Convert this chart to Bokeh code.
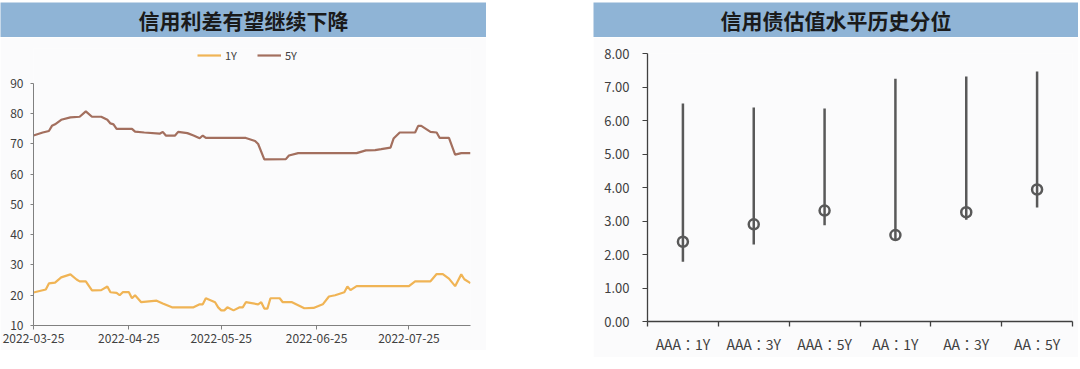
import pandas as pd
from bokeh.plotting import figure
from bokeh.layouts import row, column
from bokeh.models import (Range1d, FixedTicker, DatetimeTickFormatter, Legend,
                          Label, NumeralTickFormatter, Spacer)
from bokeh.embed import file_html
from bokeh.resources import INLINE

# ---------------- data ----------------
title_left = "信用利差有望继续下降"
title_right = "信用债估值水平历史分位"

dates_1y = ["2022-03-25", "2022-03-29", "2022-03-30", "2022-04-01", "2022-04-03", "2022-04-06",
            "2022-04-08", "2022-04-09", "2022-04-11", "2022-04-13", "2022-04-16", "2022-04-18",
            "2022-04-19", "2022-04-21", "2022-04-22", "2022-04-23", "2022-04-25", "2022-04-26",
            "2022-04-27", "2022-04-29", "2022-05-04", "2022-05-06", "2022-05-09", "2022-05-16",
            "2022-05-18", "2022-05-19", "2022-05-20", "2022-05-23", "2022-05-24", "2022-05-25",
            "2022-05-26", "2022-05-27", "2022-05-29", "2022-05-31", "2022-06-01", "2022-06-02",
            "2022-06-06", "2022-06-07", "2022-06-08", "2022-06-09", "2022-06-10", "2022-06-13",
            "2022-06-14", "2022-06-17", "2022-06-21", "2022-06-24", "2022-06-27", "2022-06-29",
            "2022-07-01", "2022-07-04", "2022-07-05", "2022-07-06", "2022-07-08", "2022-07-25",
            "2022-07-27", "2022-08-01", "2022-08-03", "2022-08-05", "2022-08-07", "2022-08-09",
            "2022-08-11", "2022-08-12", "2022-08-14"]
values_1y = [20.9, 21.9, 23.9, 24.2, 25.9, 26.9,
             25.2, 24.6, 24.6, 21.6, 21.7, 22.9,
             21.0, 20.8, 20.0, 21.0, 21.0, 19.0,
             20.0, 17.7, 18.2, 17.3, 16.0, 16.0,
             17.0, 17.0, 19.0, 17.7, 16.0, 15.0,
             15.0, 16.0, 15.0, 16.0, 16.0, 17.7,
             17.0, 17.7, 15.6, 15.6, 19.0, 19.0,
             17.7, 17.7, 15.7, 15.8, 17.0, 19.6,
             20.0, 21.0, 22.9, 21.7, 23.0, 23.0,
             24.6, 24.6, 27.0, 27.0, 25.5, 23.0,
             26.9, 25.3, 24.0]

dates_5y = ["2022-03-25", "2022-03-28", "2022-03-30", "2022-03-31", "2022-04-01", "2022-04-03",
            "2022-04-06", "2022-04-09", "2022-04-11", "2022-04-13", "2022-04-16", "2022-04-18",
            "2022-04-19", "2022-04-20", "2022-04-21", "2022-04-26", "2022-04-27", "2022-04-30",
            "2022-05-05", "2022-05-06", "2022-05-07", "2022-05-10", "2022-05-11", "2022-05-14",
            "2022-05-16", "2022-05-18", "2022-05-19", "2022-05-20", "2022-06-02", "2022-06-05",
            "2022-06-06", "2022-06-08", "2022-06-15", "2022-06-16", "2022-06-19", "2022-07-08",
            "2022-07-11", "2022-07-14", "2022-07-16", "2022-07-19", "2022-07-20", "2022-07-22",
            "2022-07-27", "2022-07-28", "2022-07-29", "2022-08-01", "2022-08-03", "2022-08-04",
            "2022-08-07", "2022-08-09", "2022-08-11", "2022-08-14"]
values_5y = [72.8, 73.8, 74.3, 76.0, 76.5, 78.0,
             78.8, 79.0, 80.8, 79.0, 79.0, 78.0,
             76.8, 76.5, 75.0, 75.0, 74.1, 73.8,
             73.4, 74.0, 72.8, 72.8, 74.0, 73.6,
             72.8, 71.9, 72.8, 72.0, 72.0, 71.0,
             70.0, 64.9, 65.0, 66.2, 67.0, 67.0,
             67.9, 68.0, 68.3, 68.8, 71.8, 73.8,
             73.8, 76.0, 76.0, 74.0, 73.8, 72.0,
             72.0, 66.5, 67.0, 67.0]

date_ticks = ["2022-03-25", "2022-04-25", "2022-05-25", "2022-06-25", "2022-07-25"]
left_y_ticks = [10, 20, 30, 40, 50, 60, 70, 80, 90]

categories = ["AAA：1Y", "AAA：3Y", "AAA：5Y", "AA：1Y", "AA：3Y", "AA：5Y"]
current = [2.38, 2.90, 3.31, 2.58, 3.26, 3.94]
high = [6.51, 6.39, 6.36, 7.25, 7.31, 7.46]
low = [1.78, 2.30, 2.87, 2.42, 3.04, 3.40]
right_y_ticks = [0, 1, 2, 3, 4, 5, 6, 7, 8]

# ---------------- style ----------------
FONT = "Noto Sans CJK SC"
FONT_TC = "Noto Sans CJK TC"
BG = "#FBFBFC"
BAR = "#8FB4D6"
C1Y = "#F0B455"
C5Y = "#A36F5E"
TXT = "#404040"


def title_bar(text, width):
    t = figure(width=width, height=35, output_backend="svg", toolbar_location=None,
               x_range=Range1d(0, 1), y_range=Range1d(0, 1),
               x_axis_type=None, y_axis_type=None, min_border=0)
    t.frame_align = False
    t.grid.visible = False
    t.outline_line_color = None
    t.background_fill_color = BAR
    t.border_fill_color = BAR
    t.add_layout(Label(x=0.5, y=0.5, text=text, text_align="center", text_baseline="middle",
                       text_font=FONT, text_font_size="21px", text_font_style="bold",
                       text_color="#1A1A1A"))
    return t


# ---------------- left chart ----------------
d1 = pd.to_datetime(dates_1y)
d5 = pd.to_datetime(dates_5y)
p1 = figure(width=486, height=313, x_axis_type="datetime", output_backend="svg",
            toolbar_location=None,
            x_range=Range1d(pd.Timestamp(dates_5y[0]), pd.Timestamp(dates_5y[-1])),
            y_range=Range1d(10, 101.57),
            min_border_left=33, min_border_right=16, min_border_top=11, min_border_bottom=25)
p1.frame_align = False
p1.background_fill_color = BG
p1.border_fill_color = BG
p1.outline_line_color = None
p1.grid.visible = False

r1 = p1.line(d1, values_1y, line_color=C1Y, line_width=2.2)
r5 = p1.line(d5, values_5y, line_color=C5Y, line_width=2.2)

legend = Legend(items=[("1Y", [r1]), ("5Y", [r5])], orientation="horizontal",
                location=(164, 262), border_line_color=None, background_fill_alpha=0,
                label_text_font=FONT, label_text_font_size="11px", label_text_color=TXT,
                glyph_width=24, glyph_height=10, label_standoff=4, spacing=12,
                padding=2, margin=0)
p1.add_layout(legend)

ya = p1.yaxis[0]
ya.ticker = FixedTicker(ticks=left_y_ticks)
ya.bounds = (10, 90)
ya.major_tick_in = 0
ya.major_tick_out = 3
ya.minor_tick_out = 0
ya.minor_tick_in = 0
ya.axis_line_color = "#808080"
ya.major_tick_line_color = "#808080"
ya.major_label_text_font = FONT
ya.major_label_text_font_size = "12px"
ya.major_label_text_color = TXT
ya.major_label_standoff = 7

xa = p1.xaxis[0]
xa.ticker = FixedTicker(ticks=[pd.Timestamp(s).value // 10**6 for s in date_ticks])
fmt = "%Y-%m-%d"
xa.formatter = DatetimeTickFormatter(microseconds=fmt, milliseconds=fmt, seconds=fmt,
                                     minsec=fmt, minutes=fmt, hourmin=fmt, hours=fmt,
                                     days=fmt, months=fmt, years=fmt)
xa.major_tick_in = 0
xa.major_tick_out = 4
xa.minor_tick_out = 0
xa.minor_tick_in = 0
xa.axis_line_color = "#808080"
xa.major_tick_line_color = "#808080"
xa.major_label_text_font = FONT
xa.major_label_text_font_size = "12px"
xa.major_label_text_color = TXT
xa.major_label_standoff = 4

# ---------------- right chart ----------------
xs = [i + 0.5 for i in range(len(categories))]
p2 = figure(width=485, height=320, output_backend="svg", toolbar_location=None,
            x_range=Range1d(0, len(categories)), y_range=Range1d(0, 8),
            min_border_left=54, min_border_right=6, min_border_top=16, min_border_bottom=36)
p2.frame_align = False
p2.background_fill_color = BG
p2.border_fill_color = BG
p2.outline_line_color = None
p2.grid.visible = False

p2.segment(x0=xs, y0=low, x1=xs, y1=high, line_color="#595959", line_width=2.5)
p2.scatter(xs, current, marker="circle", size=10, fill_color=None,
           line_color="#595959", line_width=2.5)

ya2 = p2.yaxis[0]
ya2.ticker = FixedTicker(ticks=right_y_ticks)
ya2.formatter = NumeralTickFormatter(format="0.00")
ya2.major_tick_in = 0
ya2.major_tick_out = 5
ya2.minor_tick_out = 0
ya2.minor_tick_in = 0
ya2.axis_line_color = "#404040"
ya2.axis_line_width = 1.3
ya2.major_tick_line_color = "#404040"
ya2.major_label_text_font = FONT
ya2.major_label_text_font_size = "13px"
ya2.major_label_text_color = TXT
ya2.major_label_standoff = 13

xa2 = p2.xaxis[0]
xa2.ticker = FixedTicker(ticks=xs, minor_ticks=list(range(len(categories) + 1)))
xa2.major_label_overrides = {x: c for x, c in zip(xs, categories)}
xa2.major_tick_in = 0
xa2.major_tick_out = 0
xa2.minor_tick_in = 0
xa2.minor_tick_out = 5
xa2.axis_line_color = "#404040"
xa2.axis_line_width = 1.3
xa2.minor_tick_line_color = "#404040"
xa2.minor_tick_line_width = 1.3
xa2.major_label_text_font = FONT_TC
xa2.major_label_text_font_size = "14px"
xa2.major_label_text_color = TXT
xa2.major_label_standoff = 7

# ---------------- layout ----------------
left = column(Spacer(height=2), title_bar(title_left, 486), p1)
right = column(Spacer(height=2), title_bar(title_right, 485), p2)
layout = row(left, Spacer(width=107), right)

open("out.html", "w").write(file_html(layout, INLINE))
